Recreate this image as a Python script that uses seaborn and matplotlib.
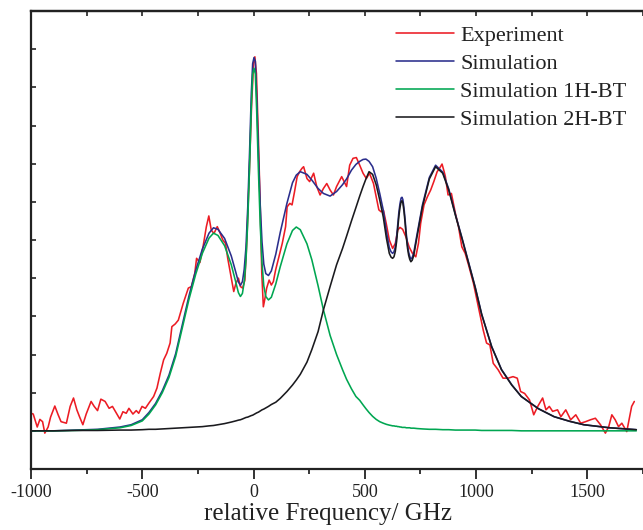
import numpy as np
import pandas as pd
import seaborn as sns
import matplotlib
matplotlib.use("Agg")
import matplotlib.pyplot as plt
from matplotlib.lines import Line2D

# ---------------- data ----------------
sim_freq = [-1000, -900, -800, -700, -600, -550, -500, -470, -440, -410, -380, -350, -320,
            -290, -260, -230, -200, -180, -160, -130, -100, -80, -68, -59, -50, -42, -34,
            -26, -18, -10, -4, 2, 8, 14, 22, 30, 38, 46, 55, 67, 80, 100, 120, 150, 175,
            192, 210, 240, 262, 290, 314, 344, 373, 400, 418, 440, 460, 477, 492, 505,
            519, 535, 551, 567, 583,
            597, 610, 618, 625, 631, 637, 643, 648, 653, 658, 663, 667, 671, 676, 681, 686,
            692, 697, 702, 707, 713, 720,
            735, 759, 790, 818, 850, 877, 907, 936, 966, 996, 1025, 1070, 1114,
            1160, 1203, 1280, 1351, 1420, 1484, 1600, 1720]

sim_1h = [0.000, 0.000, 0.001, 0.003, 0.008, 0.014, 0.026, 0.044, 0.068, 0.100, 0.140, 0.195,
          0.270, 0.345, 0.410, 0.465, 0.505, 0.518, 0.512, 0.485, 0.435, 0.390, 0.362, 0.352,
          0.360, 0.390, 0.446, 0.550, 0.690, 0.850, 0.935, 0.950, 0.935, 0.840, 0.680, 0.540,
          0.440, 0.380, 0.352, 0.343, 0.350, 0.385, 0.430, 0.490, 0.525, 0.534, 0.527, 0.490,
          0.448, 0.380, 0.317, 0.250, 0.200, 0.160, 0.135, 0.110, 0.090, 0.080, 0.068, 0.058,
          0.048, 0.038, 0.030, 0.024, 0.020,
          0.017, 0.015, 0.014, 0.013, 0.013, 0.012, 0.012, 0.011, 0.011, 0.010, 0.010, 0.009,
          0.009, 0.009, 0.009, 0.008, 0.008, 0.008, 0.008, 0.007, 0.007, 0.007,
          0.006, 0.005, 0.004, 0.004, 0.003, 0.003, 0.002, 0.002, 0.002, 0.002, 0.001, 0.001,
          0.001, 0.001, 0.000, 0.000, 0.000, 0.000, 0.000, 0.000, 0.000]

sim_2h = [0.000, 0.000, 0.001, 0.001, 0.002, 0.002, 0.003, 0.004, 0.004, 0.005, 0.006, 0.007,
          0.008, 0.009, 0.010, 0.011, 0.013, 0.014, 0.016, 0.019, 0.023, 0.026, 0.028, 0.029,
          0.031, 0.033, 0.035, 0.036, 0.038, 0.040, 0.041, 0.043, 0.045, 0.047, 0.049, 0.052,
          0.055, 0.057, 0.060, 0.064, 0.069, 0.075, 0.085, 0.103, 0.120, 0.133, 0.148, 0.180,
          0.213, 0.260, 0.317, 0.378, 0.435, 0.478, 0.510, 0.550, 0.585, 0.615, 0.640, 0.660,
          0.679, 0.672, 0.645, 0.605, 0.560,
          0.505, 0.465, 0.455, 0.452, 0.456, 0.470, 0.497, 0.530, 0.562, 0.585, 0.600, 0.603,
          0.597, 0.575, 0.545, 0.510, 0.478, 0.460, 0.449, 0.443, 0.447, 0.460,
          0.510, 0.587, 0.660, 0.692, 0.675, 0.631, 0.565, 0.505, 0.440, 0.375, 0.305, 0.220,
          0.160, 0.120, 0.090, 0.058, 0.037, 0.025, 0.016, 0.008, 0.003]

sim_total = [0.000, 0.000, 0.002, 0.004, 0.010, 0.016, 0.029, 0.048, 0.072, 0.105, 0.146, 0.202,
             0.278, 0.354, 0.420, 0.476, 0.518, 0.532, 0.528, 0.504, 0.458, 0.416, 0.390, 0.381,
             0.391, 0.423, 0.481, 0.586, 0.728, 0.885, 0.962, 0.978, 0.968, 0.880, 0.729, 0.592,
             0.495, 0.437, 0.412, 0.407, 0.419, 0.463, 0.520, 0.596, 0.650, 0.670, 0.679, 0.672,
             0.657, 0.635, 0.622, 0.615, 0.627, 0.645, 0.660, 0.683, 0.698, 0.706, 0.711, 0.712,
             0.706, 0.692, 0.662, 0.622, 0.578,
             0.522, 0.480, 0.469, 0.465, 0.469, 0.482, 0.509, 0.541, 0.573, 0.595, 0.610, 0.612,
             0.606, 0.584, 0.554, 0.518, 0.486, 0.468, 0.457, 0.450, 0.454, 0.467,
             0.516, 0.592, 0.664, 0.696, 0.678, 0.634, 0.567, 0.507, 0.442, 0.377, 0.306, 0.221,
             0.161, 0.121, 0.090, 0.058, 0.037, 0.025, 0.016, 0.008, 0.003]

exp_freq = [-1000, -990, -972, -960, -948, -938, -923, -912, -893, -878, -865, -841, -824, -809,
            -794, -782, -767, -752, -730, -716, -701, -686, -667, -649, -634, -616, -601, -587,
            -572, -560, -542, -527, -516, -501, -486, -471, -449, -434, -419, -404, -390, -375,
            -367, -352, -338, -316, -293, -279, -264, -256, -241, -227, -212, -201, -190, -178,
            -163, -153, -138, -126, -116, -101, -89, -79, -68, -59, -49, -39, -30, -19, -9, 0,
            6, 13, 22, 30, 37, 44, 50, 59, 70, 80, 89, 99, 114, 129, 144, 151, 163, 173, 184,
            196, 207, 218, 225, 240, 252, 270, 284, 299, 314, 329, 344, 359, 373, 396, 418,
            432, 447, 462, 477, 492, 507, 521, 539, 551, 563, 573, 584, 596, 610, 625, 637, 648,
            658, 670, 684, 699, 714, 729, 741, 751, 766, 781, 796, 810, 825, 838, 847, 856, 862,
            874, 889, 907, 921, 936, 951, 966, 988, 1010, 1032, 1047, 1062, 1077, 1099, 1121,
            1144, 1166, 1185, 1200, 1218, 1240, 1259, 1277, 1299, 1314, 1329, 1344, 1366, 1381,
            1403, 1425, 1448, 1470, 1492, 1514, 1536, 1559, 1581, 1596, 1610, 1625, 1640, 1655,
            1677, 1699, 1711]

exp_int = [0.046, 0.044, 0.010, 0.030, 0.024, -0.006, 0.010, 0.036, 0.065, 0.042, 0.024, 0.020,
           0.064, 0.086, 0.055, 0.037, 0.016, 0.044, 0.077, 0.064, 0.053, 0.083, 0.077, 0.059,
           0.064, 0.046, 0.031, 0.050, 0.046, 0.059, 0.044, 0.053, 0.046, 0.064, 0.059, 0.072,
           0.090, 0.112, 0.151, 0.186, 0.203, 0.230, 0.273, 0.280, 0.290, 0.334, 0.374, 0.378,
           0.413, 0.452, 0.441, 0.482, 0.535, 0.563, 0.526, 0.517, 0.535, 0.522, 0.500, 0.491,
           0.452, 0.404, 0.365, 0.387, 0.400, 0.378, 0.374, 0.395, 0.500, 0.675, 0.849, 0.963,
           0.980, 0.936, 0.762, 0.587, 0.413, 0.325, 0.343, 0.374, 0.395, 0.382, 0.391, 0.421,
           0.456, 0.491, 0.535, 0.587, 0.596, 0.592, 0.626, 0.666, 0.679, 0.688, 0.692, 0.661,
           0.653, 0.675, 0.640, 0.618, 0.635, 0.648, 0.631, 0.618, 0.640, 0.666, 0.640, 0.696,
           0.714, 0.716, 0.696, 0.675, 0.661, 0.675, 0.648, 0.613, 0.579, 0.574, 0.577, 0.544,
           0.500, 0.478, 0.491, 0.526, 0.533, 0.528, 0.509, 0.482, 0.465, 0.456, 0.491, 0.544,
           0.592, 0.613, 0.631, 0.653, 0.679, 0.690, 0.699, 0.680, 0.666, 0.618, 0.622, 0.570,
           0.535, 0.482, 0.465, 0.435, 0.387, 0.325, 0.264, 0.230, 0.225, 0.177, 0.160, 0.138,
           0.138, 0.142, 0.138, 0.103, 0.098, 0.081, 0.042, 0.064, 0.086, 0.055, 0.064, 0.051,
           0.055, 0.037, 0.055, 0.029, 0.042, 0.020, 0.024, 0.029, 0.033, 0.016, -0.006, 0.011,
           0.042, 0.029, 0.011, 0.020, -0.002, 0.064, 0.077]

series_names = ["Experiment", "Simulation", "Simulation 1H-BT", "Simulation 2H-BT"]
series_colors = ["#ec1c24", "#2b2e8c", "#00a651", "#1a1a1e"]

x_major = [-1000, -500, 0, 500, 1000, 1500]
x_labels = ["-1000", "-500", "0", "500", "1000", "1500"]

# ---------------- build long table ----------------
frames = [
    pd.DataFrame({"freq": exp_freq, "intensity": exp_int, "series": series_names[0]}),
    pd.DataFrame({"freq": sim_freq, "intensity": sim_total, "series": series_names[1]}),
    pd.DataFrame({"freq": sim_freq, "intensity": sim_1h, "series": series_names[2]}),
    pd.DataFrame({"freq": sim_freq, "intensity": sim_2h, "series": series_names[3]}),
]
df = pd.concat(frames, ignore_index=True)

sns.set_theme(style="ticks")
plt.rcParams["font.family"] = ["Liberation Serif", "DejaVu Serif"]
plt.rcParams["axes.unicode_minus"] = False

W, H = 643, 530
fig = plt.figure(figsize=(W / 100, H / 100), dpi=100)
ax = fig.add_axes([31 / W, 1 - 469 / H, 612 / W, 458 / H])

palette = dict(zip(series_names, series_colors))
sns.lineplot(data=df, x="freq", y="intensity", hue="series", hue_order=series_names,
             palette=palette, estimator=None, sort=False, linewidth=1.15,
             legend=False, ax=ax)

ax.set_xlim(-1000, 1720)
ax.set_ylim(-0.1, 1.1)

# spines
for s in ["left", "bottom", "top"]:
    ax.spines[s].set_linewidth(1.6)
    ax.spines[s].set_color("#222222")
ax.spines["right"].set_visible(False)

# x ticks
ax.set_xticks(x_major)
ax.set_xticklabels(x_labels)
ax.set_xticks(np.arange(-750, 1751, 500), minor=True)
ax.tick_params(axis="x", which="major", direction="out", length=7, width=1.3,
               labelsize=13, pad=4, colors="#222222", top=False)
ax.tick_params(axis="x", which="minor", direction="out", length=3.5, width=1.3, top=False)

# y ticks (no labels)
ax.set_yticks(np.arange(-0.1, 1.101, 0.1))
ax.tick_params(axis="y", which="major", direction="in", length=3.5, width=1.2,
               labelleft=False, right=False, colors="#222222")

# top ticks, inward
sec = ax.secondary_xaxis("top")
sec.set_xticks(np.arange(-1000, 1751, 250))
sec.tick_params(axis="x", direction="in", length=3.5, width=1.2, labeltop=False,
                colors="#222222")
sec.spines["top"].set_linewidth(1.6)
sec.spines["top"].set_color("#222222")

ax.set_xlabel("relative Frequency/ GHz", fontsize=18, color="#222222")
ax.xaxis.set_label_coords((328.5 - 31) / 612, (469 - 503) / 458)
ax.set_ylabel("")

handles = [Line2D([0], [0], color=c, lw=1.15) for c in series_colors]
leg = ax.legend(handles, series_names, loc="upper left",
                bbox_to_anchor=(396 / W, 1 - 25 / H), bbox_transform=fig.transFigure,
                frameon=False, fontsize=16, handlelength=2.6, handletextpad=0.3,
                labelspacing=0.34, borderpad=0, borderaxespad=0)
for t in leg.get_texts():
    t.set_color("#222222")

fig.savefig("out.png", dpi=100)
